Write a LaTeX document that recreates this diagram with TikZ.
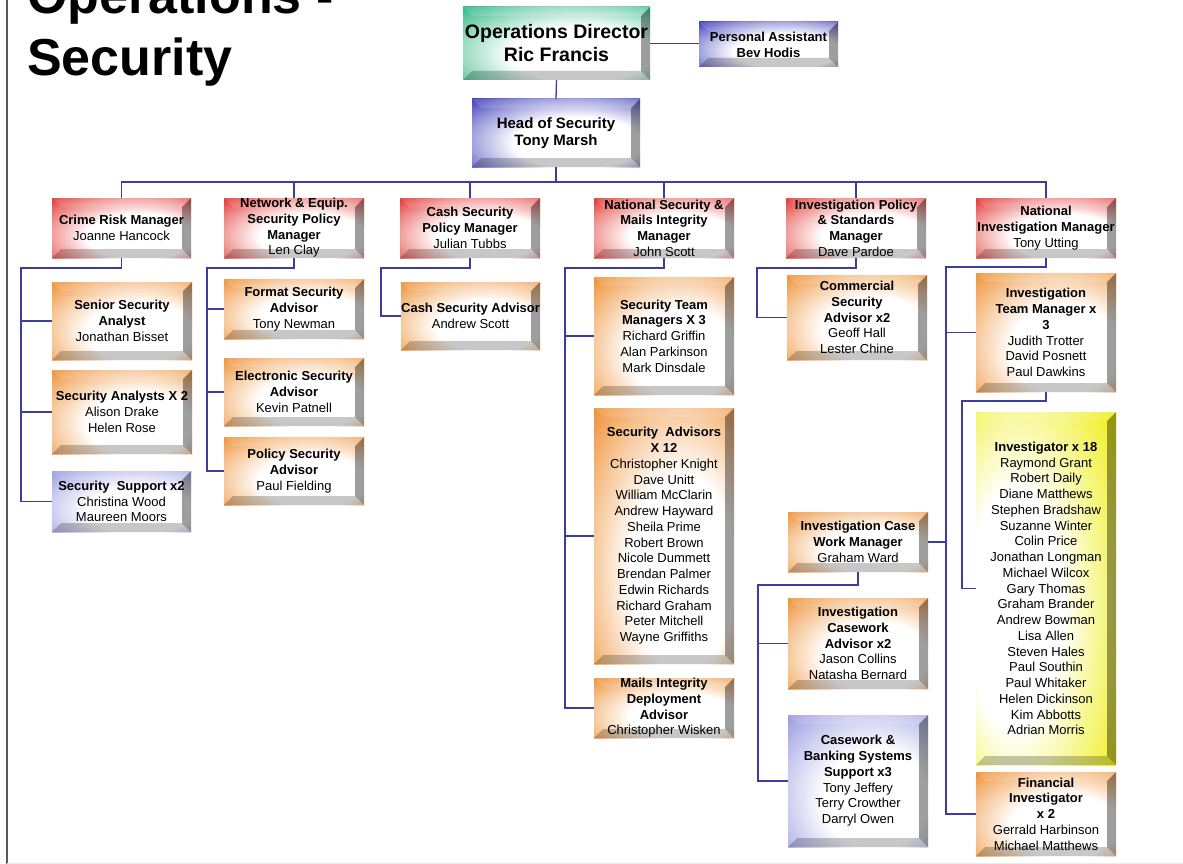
\documentclass[tikz,border=0pt]{standalone}
\usepackage{fontspec}
\setmainfont{Liberation Sans}
\usetikzlibrary{calc}
\definecolor{cOrange}{RGB}{238,140,45}
\definecolor{cRed}{RGB}{225,45,40}
\definecolor{cBlue}{RGB}{55,55,185}
\definecolor{cLav}{RGB}{150,150,225}
\definecolor{cGreen}{RGB}{40,180,130}
\definecolor{cYellow}{RGB}{238,238,20}
\definecolor{cLine}{RGB}{60,60,165}
\colorlet{bfc}{cOrange}
\pgfdeclareradialshading[bfc]{bevelface}{\pgfpoint{9bp}{-10bp}}{color(0bp)=(white); color(19bp)=(white); color(31bp)=(bfc!50!white); color(42bp)=(bfc); color(70bp)=(bfc)}
\pgfdeclareradialshading[bfc]{bevelfaceL}{\pgfpoint{-15bp}{-4bp}}{color(0bp)=(white); color(17bp)=(white); color(30bp)=(bfc!55!white); color(41bp)=(bfc); color(70bp)=(bfc)}
\newcommand\bv{9}
% #1 text style, #2 name, #3 x1, #4 y1, #5 x2, #6 y2, #7 colour, #8 shading, #9 text
\newcommand\obox[9][]{%
  \colorlet{bfc}{#7}%
  \shade[shading=#8] (#3,#4) rectangle (#5,#6);
  \fill[black,opacity=.38] (#5,#4) -- (#5,#6) -- ({#5-\bv},{#6-\bv}) -- ({#5-\bv},{#4+\bv}) -- cycle;
  \fill[black,opacity=.22] (#3,#6) -- (#5,#6) -- ({#5-\bv},{#6-\bv}) -- ({#3+\bv},{#6-\bv}) -- cycle;
  \fill[white,opacity=.12] (#3,#4) -- (#5,#4) -- ({#5-\bv},{#4+\bv}) -- ({#3+\bv},{#4+\bv}) -- cycle;
  \node[boxframe, minimum width={(#5-#3)*1pt}, minimum height={(#6-#4)*1pt}] (#2) at ({(#3+#5)/2},{(#4+#6)/2}) {};
  \node[boxtext,#1] (#2-t) at (#2.center) {#9};
}
\begin{document}
\begin{tikzpicture}[x=1pt,y=-1pt,
  boxframe/.style={inner sep=0pt, outer sep=0pt, draw=none},
  boxtext/.style={align=center, inner sep=0pt, font=\fontsize{13}{15.75}\selectfont},
  conn/.style={draw=cLine, line width=1.3pt},
  titletext/.style={anchor=base west, inner sep=0pt, font=\fontsize{52}{61}\selectfont\bfseries}]
\useasboundingbox (0,0) rectangle (1183,864);
\fill[white] (0,0) rectangle (1183,864);
\draw[black!65, line width=2pt] (6.5,0) -- (6.5,864);
\draw[black!8, line width=1pt] (6.5,863) -- (1183,863);

\node[titletext] (title1) at (27,14) {Operations -};
\node[titletext] (title2) at (27,76) {Security};

% top
\obox[font=\fontsize{19.5}{23}\selectfont\bfseries]{od}{463}{7}{650}{80}{cGreen}{bevelface}{Operations Director\\Ric Francis}
\obox[font=\fontsize{13}{16}\selectfont\bfseries]{pa}{699}{22}{838}{67}{cBlue}{bevelface}{Personal Assistant\\Bev Hodis}
\obox[font=\fontsize{15}{17}\selectfont\bfseries]{hos}{472}{99}{640}{167}{cBlue}{bevelface}{Head of Security\\Tony Marsh}

% level 2
\obox{crm}{52}{198}{191}{258}{cRed}{bevelface}{\textbf{Crime Risk Manager}\\Joanne Hancock}
\obox{net}{224}{198}{364}{258}{cRed}{bevelface}{\textbf{Network \& Equip.}\\\textbf{Security Policy}\\\textbf{Manager}\\Len Clay}
\obox{cash}{400}{198}{540}{258}{cRed}{bevelface}{\textbf{Cash Security}\\\textbf{Policy Manager}\\Julian Tubbs}
\obox{nsm}{594}{198}{734}{258}{cRed}{bevelface}{\textbf{National Security \&}\\\textbf{Mails Integrity}\\\textbf{Manager}\\John Scott}
\obox{ips}{786}{198}{926}{258}{cRed}{bevelface}{\textbf{Investigation Policy}\\\textbf{\& Standards}\\\textbf{Manager}\\Dave Pardoe}
\obox{nim}{976}{198}{1116}{258}{cRed}{bevelface}{\textbf{National}\\\textbf{Investigation Manager}\\Tony Utting}

% crime risk team
\obox{ssa}{52}{282}{192}{360}{cOrange}{bevelface}{\textbf{Senior Security}\\\textbf{Analyst}\\Jonathan Bisset}
\obox{sa}{52}{370}{192}{454}{cOrange}{bevelface}{\textbf{Security Analysts X 2}\\Alison Drake\\Helen Rose}
\obox{ss}{52}{471}{191}{532}{cLav}{bevelface}{\textbf{Security\ \ Support x2}\\Christina Wood\\Maureen Moors}

% network team
\obox{fmt}{224}{279}{364}{339}{cOrange}{bevelface}{\textbf{Format Security}\\\textbf{Advisor}\\Tony Newman}
\obox{elec}{224}{358}{364}{426}{cOrange}{bevelface}{\textbf{Electronic Security}\\\textbf{Advisor}\\Kevin Patnell}
\obox{pol}{224}{437}{364}{505}{cOrange}{bevelface}{\textbf{Policy Security}\\\textbf{Advisor}\\Paul Fielding}

% cash team
\obox{csa}{401}{282}{540}{350}{cOrange}{bevelface}{\textbf{Cash Security Advisor}\\Andrew Scott}

% national security team
\obox{stm}{594}{277}{734}{395}{cOrange}{bevelface}{\textbf{Security Team}\\\textbf{Managers X 3}\\Richard Griffin\\Alan Parkinson\\Mark Dinsdale}
\obox{sadv}{594}{408}{734}{664}{cOrange}{bevelface}{\textbf{Security\ \ Advisors}\\\textbf{X 12}\\Christopher Knight\\Dave Unitt\\William McClarin\\Andrew Hayward\\Sheila Prime\\Robert Brown\\Nicole Dummett\\Brendan Palmer\\Edwin Richards\\Richard Graham\\Peter Mitchell\\Wayne Griffiths}
\obox{mida}{594}{678}{734}{738}{cOrange}{bevelface}{\textbf{Mails Integrity}\\\textbf{Deployment}\\\textbf{Advisor}\\Christopher Wisken}

% investigation policy team
\obox{com}{787}{275}{927}{360}{cOrange}{bevelface}{\textbf{Commercial}\\\textbf{Security}\\\textbf{Advisor x2}\\Geoff Hall\\Lester Chine}

% national investigation team
\obox{itm}{976}{273}{1116}{392}{cOrange}{bevelface}{\textbf{Investigation}\\\textbf{Team Manager x}\\\textbf{3}\\Judith Trotter\\David Posnett\\Paul Dawkins}
\obox{inv}{976}{412}{1116}{765}{cYellow}{bevelfaceL}{\textbf{Investigator x 18}\\Raymond Grant\\Robert Daily\\Diane Matthews\\Stephen Bradshaw\\Suzanne Winter\\Colin Price\\Jonathan Longman\\Michael Wilcox\\Gary Thomas\\Graham Brander\\Andrew Bowman\\Lisa Allen\\Steven Hales\\Paul Southin\\Paul Whitaker\\Helen Dickinson\\Kim Abbotts\\Adrian Morris}
\obox{fin}{976}{772}{1116}{856}{cOrange}{bevelface}{\textbf{Financial}\\\textbf{Investigator}\\\textbf{x 2}\\Gerrald Harbinson\\Michael Matthews}
\obox{icwm}{788}{512}{928}{572}{cOrange}{bevelface}{\textbf{Investigation Case}\\\textbf{Work Manager}\\Graham Ward}
\obox{ica}{788}{598}{928}{689}{cOrange}{bevelface}{\textbf{Investigation}\\\textbf{Casework}\\\textbf{Advisor x2}\\Jason Collins\\Natasha Bernard}
\obox{cbs}{788}{715}{928}{847}{cLav}{bevelface}{\textbf{Casework \&}\\\textbf{Banking Systems}\\\textbf{Support x3}\\Tony Jeffery\\Terry Crowther\\Darryl Owen}

% connectors: top
\draw[conn] (od.east) -- (od.east -| pa.west);
\draw[conn] (od.south) -- (hos.north);
\coordinate (bus0) at (556,182);
\draw[conn] (hos.south) -- (bus0);
\draw[conn] (bus0) -| (crm.north);
\draw[conn] (bus0) -| (net.north);
\draw[conn] (bus0) -| (cash.north);
\draw[conn] (bus0) -| (nsm.north);
\draw[conn] (bus0) -| (ips.north);
\draw[conn] (bus0) -| (nim.north);

% crime risk
\coordinate (crmS) at (21,268);
\draw[conn] (crm.south) |- (crmS) -- (crmS |- ss.west) -- (ss.west);
\draw[conn] (crmS |- ssa.west) -- (ssa.west);
\draw[conn] (crmS |- sa.west) -- (sa.west);

% network
\coordinate (netS) at (207,268);
\draw[conn] (net.south) |- (netS) -- (netS |- pol.west) -- (pol.west);
\draw[conn] (netS |- fmt.west) -- (fmt.west);
\draw[conn] (netS |- elec.west) -- (elec.west);

% cash
\coordinate (cashS) at (381,268);
\draw[conn] (cash.south) |- (cashS) -- (cashS |- csa.west) -- (csa.west);

% national security
\coordinate (nsmS) at (565,268);
\draw[conn] (nsm.south) |- (nsmS) -- (nsmS |- mida.west) -- (mida.west);
\draw[conn] (nsmS |- stm.west) -- (stm.west);
\draw[conn] (nsmS |- sadv.west) -- (sadv.west);

% investigation policy
\coordinate (ipsS) at (757,268);
\draw[conn] (ips.south) |- (ipsS) -- (ipsS |- com.west) -- (com.west);

% national investigation
\coordinate (nimS) at (946,267);
\draw[conn] (nim.south) |- (nimS) -- (nimS |- fin.west) -- (fin.west);
\draw[conn] (nimS |- itm.west) -- (itm.west);
\draw[conn] (nimS |- icwm.east) -- (icwm.east);

% investigation team manager
\coordinate (itmS) at (962,401);
\draw[conn] (itm.south) |- (itmS) -- (itmS |- inv.west) -- (inv.west);

% case work manager
\coordinate (icwmS) at (758,585);
\draw[conn] (icwm.south) |- (icwmS) -- (icwmS |- cbs.west) -- (cbs.west);
\draw[conn] (icwmS |- ica.west) -- (ica.west);
\end{tikzpicture}
\end{document}
